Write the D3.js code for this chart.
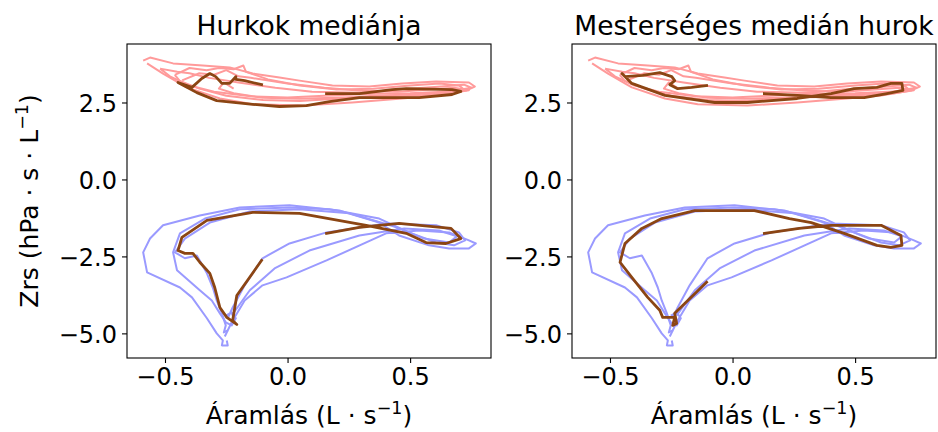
<!DOCTYPE html>
<html>
<head>
<meta charset="utf-8">
<script src="https://cdn.jsdelivr.net/npm/d3@7"></script>
<style>
  html, body { margin: 0; padding: 0; background: #fff; }
  svg text { font-family: "DejaVu Sans", sans-serif; fill: #000; }
</style>
</head>
<body>
<svg id="chart" width="938" height="432"></svg>
<script>
// Panel titles and axis ticks
const panelTitles = ["Hurkok mediánja", "Mesterséges medián hurok"];
const xTicks = [-0.5, 0.0, 0.5];
const yTicks = [-5.0, -2.5, 0.0, 2.5];

// Individual loops, negative (expiratory) branch: [flow, Zrs]
const blueLoop1 = [[-0.256,-5.10],[-0.228,-4.64],[-0.175,-3.93],[-0.102,-3.44],[-0.004,-3.18],[0.159,-2.63],[0.402,-1.75],[0.537,-1.66],[0.659,-1.72],[0.740,-1.98],[0.768,-2.08],[0.740,-2.24],[0.659,-2.24],[0.577,-2.14],[0.455,-1.82],[0.374,-1.40],[0.211,-1.01],[0.008,-0.84],[-0.195,-0.91],[-0.358,-1.17],[-0.508,-1.49],[-0.561,-1.92],[-0.589,-2.37],[-0.573,-3.02],[-0.439,-3.51],[-0.390,-3.83],[-0.329,-4.51],[-0.289,-5.00],[-0.264,-5.23],[-0.268,-5.39],[-0.244,-5.39],[-0.248,-5.23]];
const blueLoop2 = [[-0.244,-4.51],[-0.224,-4.16],[-0.175,-3.44],[-0.102,-2.56],[0.008,-2.08],[0.159,-1.72],[0.402,-1.43],[0.606,-1.49],[0.699,-1.72],[0.724,-1.98],[0.679,-2.14],[0.606,-2.05],[0.496,-1.72],[0.374,-1.27],[0.171,-0.97],[0.008,-0.91],[-0.195,-0.97],[-0.337,-1.27],[-0.439,-1.75],[-0.467,-2.37],[-0.451,-2.95],[-0.358,-3.60],[-0.309,-3.93],[-0.276,-4.35],[-0.252,-4.64],[-0.228,-4.74],[-0.211,-4.51],[-0.228,-4.32],[-0.252,-4.42]];
const blueLoop3 = [[-0.228,-4.42],[-0.154,-3.60],[-0.053,-2.89],[0.089,-2.31],[0.293,-1.82],[0.476,-1.59],[0.618,-1.66],[0.691,-1.85],[0.659,-2.05],[0.557,-1.92],[0.435,-1.53],[0.252,-1.10],[0.049,-0.97],[-0.154,-1.04],[-0.317,-1.40],[-0.419,-1.92],[-0.459,-2.37],[-0.419,-2.56],[-0.370,-2.47],[-0.329,-3.05],[-0.305,-3.51],[-0.289,-3.93],[-0.268,-4.35],[-0.252,-4.74],[-0.260,-4.97],[-0.244,-4.90]];

// Individual loops, positive (inspiratory) branch
const redLoop1 = [[-0.589,3.86],[-0.561,3.96],[-0.467,3.77],[-0.346,3.70],[-0.236,3.64],[-0.142,3.44],[-0.033,3.31],[0.049,3.21],[0.183,3.05],[0.333,3.02],[0.467,3.12],[0.606,3.18],[0.740,3.15],[0.764,3.02],[0.728,2.89],[0.606,2.73],[0.467,2.63],[0.264,2.50],[0.061,2.40],[-0.142,2.44],[-0.276,2.63],[-0.411,2.99],[-0.508,3.44],[-0.573,3.77]];
const redLoop2 = [[-0.46,3.40],[-0.40,3.62],[-0.33,3.55],[-0.28,3.62],[-0.22,3.58],[-0.18,3.70],[-0.17,3.50],[-0.08,3.25],[0.05,3.05],[0.20,2.92],[0.35,2.95],[0.50,3.05],[0.62,3.12],[0.70,3.05],[0.72,2.92],[0.62,2.82],[0.50,2.76],[0.35,2.72],[0.20,2.62],[0.05,2.55],[-0.10,2.58],[-0.25,2.72],[-0.36,2.95],[-0.44,3.20],[-0.46,3.40]];
const redLoop3 = [[-0.43,3.22],[-0.36,3.45],[-0.30,3.40],[-0.25,3.55],[-0.20,3.35],[-0.15,3.30],[0.00,3.12],[0.15,2.98],[0.30,2.88],[0.45,2.85],[0.58,2.92],[0.68,2.98],[0.74,2.90],[0.66,2.80],[0.52,2.72],[0.38,2.68],[0.22,2.66],[0.05,2.62],[-0.10,2.65],[-0.22,2.80],[-0.28,2.95],[-0.26,3.15],[-0.22,2.95]];
const redLoop4 = [[-0.52,3.60],[-0.45,3.50],[-0.40,3.45],[-0.32,3.30],[-0.20,3.15],[-0.05,2.98],[0.10,2.85],[0.30,2.82],[0.45,2.92],[0.60,3.00],[0.72,3.08],[0.75,2.98],[0.66,2.86],[0.50,2.80],[0.35,2.78],[0.15,2.72],[0.00,2.66],[-0.15,2.70],[-0.30,2.85],[-0.40,3.05],[-0.48,3.35],[-0.52,3.60]];

// Median of the loops
const medianUpper = [[0.159,2.79],[0.293,2.79],[0.427,2.92],[0.484,2.95],[0.671,2.92],[0.707,2.86],[0.671,2.76],[0.537,2.66],[0.402,2.66],[0.293,2.66],[0.171,2.53],[0.077,2.40],[-0.033,2.37],[-0.142,2.44],[-0.289,2.56],[-0.370,2.82],[-0.447,3.15],[-0.390,2.99],[-0.350,3.28],[-0.317,3.44],[-0.293,3.34],[-0.268,3.12],[-0.236,3.12],[-0.211,3.34],[-0.211,3.25],[-0.175,3.21],[-0.106,3.08]];
const medianLower = [[0.159,-1.75],[0.293,-1.56],[0.455,-1.43],[0.667,-1.59],[0.707,-1.92],[0.646,-2.08],[0.565,-2.05],[0.484,-1.75],[0.321,-1.49],[0.049,-1.10],[-0.142,-1.07],[-0.329,-1.33],[-0.431,-1.88],[-0.447,-2.31],[-0.419,-2.40],[-0.386,-2.40],[-0.358,-2.69],[-0.317,-3.05],[-0.297,-3.51],[-0.276,-4.16],[-0.248,-4.48],[-0.207,-4.71],[-0.224,-4.58],[-0.207,-3.77],[-0.106,-2.63]];

// Synthetic median loop
const synthUpper = [[0.130,2.79],[0.264,2.73],[0.402,2.66],[0.537,2.66],[0.630,2.79],[0.695,2.89],[0.691,3.12],[0.646,3.12],[0.589,2.99],[0.496,2.95],[0.402,2.79],[0.264,2.63],[0.061,2.50],[-0.073,2.50],[-0.276,2.73],[-0.411,3.12],[-0.451,3.44],[-0.439,3.34],[-0.366,3.38],[-0.297,3.47],[-0.248,3.34],[-0.236,3.21],[-0.256,3.08],[-0.224,2.95],[-0.167,2.99],[-0.106,3.05]];
const synthLower = [[0.130,-1.75],[0.272,-1.59],[0.402,-1.49],[0.606,-1.49],[0.687,-1.82],[0.691,-2.14],[0.646,-2.21],[0.589,-2.14],[0.455,-1.75],[0.321,-1.40],[0.232,-1.27],[0.089,-1.01],[-0.154,-1.01],[-0.289,-1.27],[-0.370,-1.59],[-0.439,-2.08],[-0.459,-2.69],[-0.411,-3.18],[-0.346,-3.83],[-0.297,-4.25],[-0.285,-4.48],[-0.236,-4.48],[-0.244,-4.74],[-0.228,-4.68],[-0.236,-4.35],[-0.195,-4.03],[-0.106,-3.34]];

const blueLoops = [blueLoop1, blueLoop2, blueLoop3];
const redLoops = [redLoop1, redLoop2, redLoop3, redLoop4];
const medians = [[medianUpper, medianLower], [synthUpper, synthLower]];

const svg = d3.select("#chart");
const panelLeft = [127, 572];
const panelW = 364, plotTop = 44, plotBottom = 358;

const x = d3.scaleLinear().domain([-0.655, 0.83]).range([0, panelW]);
const y = d3.scaleLinear().domain([-5.80, 4.40]).range([plotBottom, plotTop]);
const line = d3.line().x(d => x(d[0])).y(d => y(d[1]));
const fmt = d => d3.format(".1f")(d).replace("-", "\u2212");

panelTitles.forEach((title, i) => {
  const g = svg.append("g").attr("transform", `translate(${panelLeft[i]},0)`);

  g.selectAll("path.red").data(redLoops).join("path")
    .attr("class", "red").attr("d", line)
    .attr("fill", "none").attr("stroke", "#ff9a9a").attr("stroke-width", 2)
    .attr("stroke-linejoin", "round");
  g.selectAll("path.blue").data(blueLoops).join("path")
    .attr("class", "blue").attr("d", line)
    .attr("fill", "none").attr("stroke", "#9a9aff").attr("stroke-width", 2)
    .attr("stroke-linejoin", "round");
  g.selectAll("path.med").data(medians[i]).join("path")
    .attr("class", "med").attr("d", line)
    .attr("fill", "none").attr("stroke", "#8b4513").attr("stroke-width", 2.8)
    .attr("stroke-linejoin", "round").attr("stroke-linecap", "square");

  // frame
  g.append("rect").attr("x", 0).attr("y", plotTop).attr("width", panelW).attr("height", plotBottom - plotTop)
    .attr("fill", "none").attr("stroke", "#000").attr("stroke-width", 1.1);

  const xAxis = g.append("g").attr("transform", `translate(0,${plotBottom})`)
    .call(d3.axisBottom(x).tickValues(xTicks).tickFormat(fmt).tickSize(5).tickPadding(5));
  const yAxis = g.append("g")
    .call(d3.axisLeft(y).tickValues(yTicks).tickFormat(fmt).tickSize(5).tickPadding(5));
  [xAxis, yAxis].forEach(a => {
    a.select(".domain").remove();
    a.selectAll("line").attr("stroke", "#000").attr("stroke-width", 1.1);
    a.selectAll("text").style("font-size", "24px").style("font-family", "'DejaVu Sans', sans-serif");
  });
  yAxis.selectAll("text").attr("dy", "0.36em");
  xAxis.selectAll("text").attr("dy", "0.72em");

  g.append("text").attr("x", panelW / 2).attr("y", 35).attr("text-anchor", "middle")
    .style("font-size", "26.5px").text(title);

  const xl = g.append("text").attr("x", panelW / 2).attr("y", 424).attr("text-anchor", "middle")
    .style("font-size", "25px");
  xl.append("tspan").text("Áramlás (L \u00b7 s");
  xl.append("tspan").attr("dy", -10).style("font-size", "17.5px").text("\u22121");
  xl.append("tspan").attr("dy", 10).text(")");
});

const yl = svg.append("text").attr("transform", "translate(38,201) rotate(-90)")
  .attr("text-anchor", "middle").style("font-size", "25px");
yl.append("tspan").text("Zrs (hPa \u00b7 s \u00b7 L");
yl.append("tspan").attr("dy", -10).style("font-size", "17.5px").text("\u22121");
yl.append("tspan").attr("dy", 10).text(")");
</script>
</body>
</html>
